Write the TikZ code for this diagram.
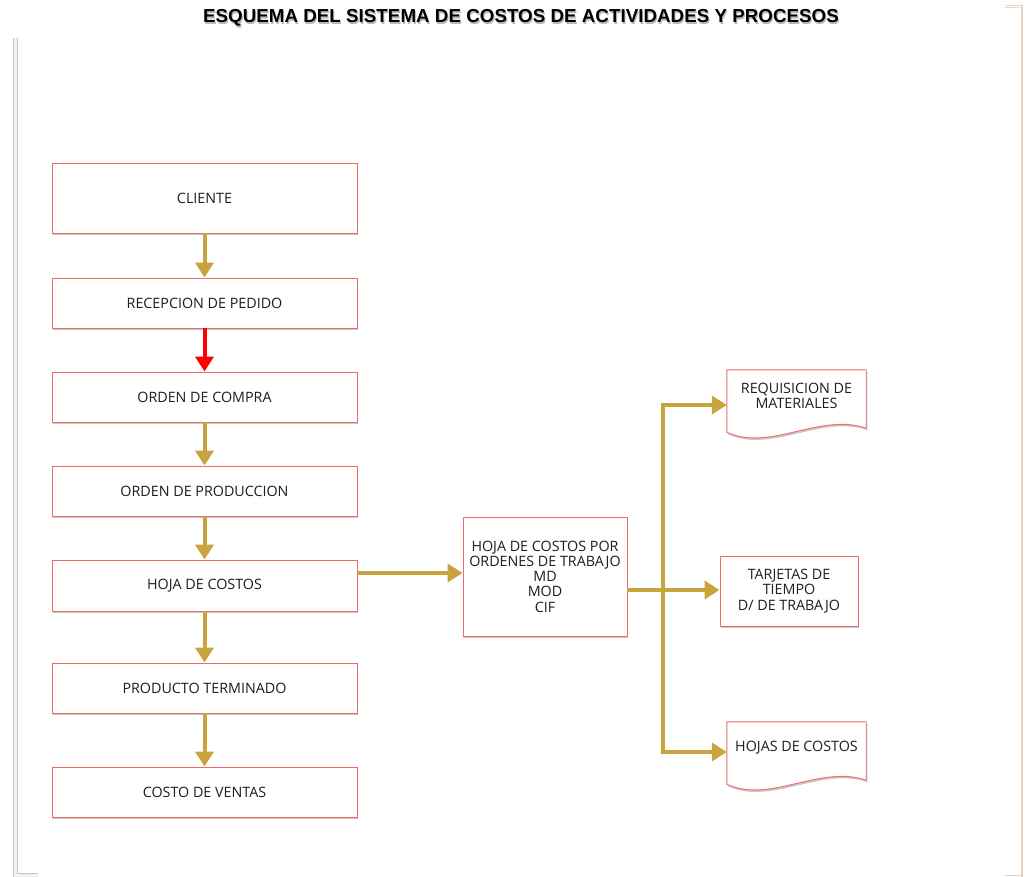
\documentclass[tikz,border=0pt]{standalone}
\usepackage{fontspec}
\setmainfont{Open Sans}
\newfontfamily\titlefont{Liberation Sans}
\usetikzlibrary{arrows.meta,shadows,calc}
\definecolor{gold}{HTML}{C8A43E}
\definecolor{boxred}{HTML}{F06A6A}
\definecolor{arrred}{HTML}{FF0000}
\definecolor{txt}{HTML}{1E1E1E}
\tikzset{
  box/.style={draw=boxred, line width=0.9pt, fill=white, minimum width=305pt, minimum height=50pt,
    align=center, text=txt, font=\fontsize{14.3}{15.3}\selectfont, inner sep=0pt,
    drop shadow={shadow xshift=1.2pt, shadow yshift=-2pt, fill=gray!45, opacity=1}},
  docbox/.style={minimum width=139pt, minimum height=52pt, align=center, text=txt,
    font=\fontsize{14.3}{15.3}\selectfont, inner sep=0pt},
  docline/.style={draw=boxred, line width=0.9pt, fill=white},
  docshadow/.style={fill=gray!45},
  flow/.style={draw=gold, line width=4pt, -{Triangle[width=18pt,length=15pt]}},
  flowred/.style={draw=arrred, line width=4pt, -{Triangle[width=18pt,length=15pt]}},
  plain/.style={draw=gold, line width=4pt},
  title/.style={font=\titlefont\bfseries\fontsize{18.8}{22}\selectfont, text=black},
}
\begin{document}
\begin{tikzpicture}[x=1pt,y=-1pt]
\useasboundingbox (0,0) rectangle (1027,877);
% page border marks
\draw[gray!55!teal!40, line width=0.8pt, double=gray!10, double distance=2.6pt] (15.5,38) -- (15.5,875.5) -- (38,875.5);
\draw[brown!35, line width=1.2pt] (1005,5.5) -- (1022,5.5) -- (1022,877);
\draw[brown!35, line width=1.2pt] (1005,875.5) -- (1022,875.5);
\draw[gray!30, line width=1pt] (1005,8) -- (1020,8);
% title
\node[title, text=gray!55] at (522,20) {ESQUEMA DEL SISTEMA DE COSTOS DE ACTIVIDADES Y PROCESOS};
\node[title] (title) at (521,18) {ESQUEMA DEL SISTEMA DE COSTOS DE ACTIVIDADES Y PROCESOS};
% left column
\node[box, minimum height=70pt] (cli) at (204.5,198) {CLIENTE};
\node[box] (rec) at (204.5,303) {RECEPCION DE PEDIDO};
\node[box] (oc) at (204.5,397) {ORDEN DE COMPRA};
\node[box] (op) at (204.5,491) {ORDEN DE PRODUCCION};
\node[box, minimum height=51pt] (hc) at (204.5,585.5) {HOJA DE COSTOS};
\node[box] (pt) at (204.5,688) {PRODUCTO TERMINADO};
\node[box] (cv) at (204.5,792) {COSTO DE VENTAS};
% middle
\node[box, minimum width=164pt, minimum height=119pt] (mid) at (545,576.5) {HOJA DE COSTOS POR\\ORDENES DE TRABAJO\\MD\\MOD\\CIF};
% right
\node[box, minimum width=138pt, minimum height=70pt] (tar) at (789,591) {TARJETAS DE\\TIEMPO\\D/ DE TRABAJO};
\foreach \n/\cy/\t in {req/396/{REQUISICION DE\\MATERIALES}, hdc/748/{HOJAS DE COSTOS}} {
  \node[docbox] (\n) at (796.5,\cy) {};
  \fill[docshadow] ($(\n.north west)+(1.2,2)$) -- ($(\n.north east)+(1.2,2)$) -- ($(\n.south east)+(1.2,8)$)
     .. controls ($(\n.south east)+(-44.8,-8)$) and ($(\n.south west)+(44.2,32)$) .. ($(\n.south west)+(1.2,12)$) -- cycle;
  \draw[docline] (\n.north west) -- (\n.north east) -- ($(\n.south east)+(0,6)$)
     .. controls ($(\n.south east)+(-46,-10)$) and ($(\n.south west)+(43,30)$) .. ($(\n.south west)+(0,10)$) -- cycle;
  \node[docbox] at (\n) {\t};
}
% connectors
\draw[flow] (cli) -- (rec);
\draw[flowred] (rec) -- (oc);
\draw[flow] (oc) -- (op);
\draw[flow] (op) -- (hc);
\draw[flow] (hc) -- (pt);
\draw[flow] (pt) -- (cv);
\draw[flow] (hc.east |- 0,573) -- (mid.west |- 0,573);
\coordinate (j) at (663,590);
\coordinate (jt) at (663,405);
\coordinate (jb) at (663,752);
\draw[plain] (mid.east |- j) -- (j);
\draw[plain, line cap=rect] (jt) -- (jb);
\draw[flow] (jt) -- (req.west |- jt);
\draw[flow] (j) -- (tar.west |- j);
\draw[flow] (jb) -- (hdc.west |- jb);
\end{tikzpicture}
\end{document}
